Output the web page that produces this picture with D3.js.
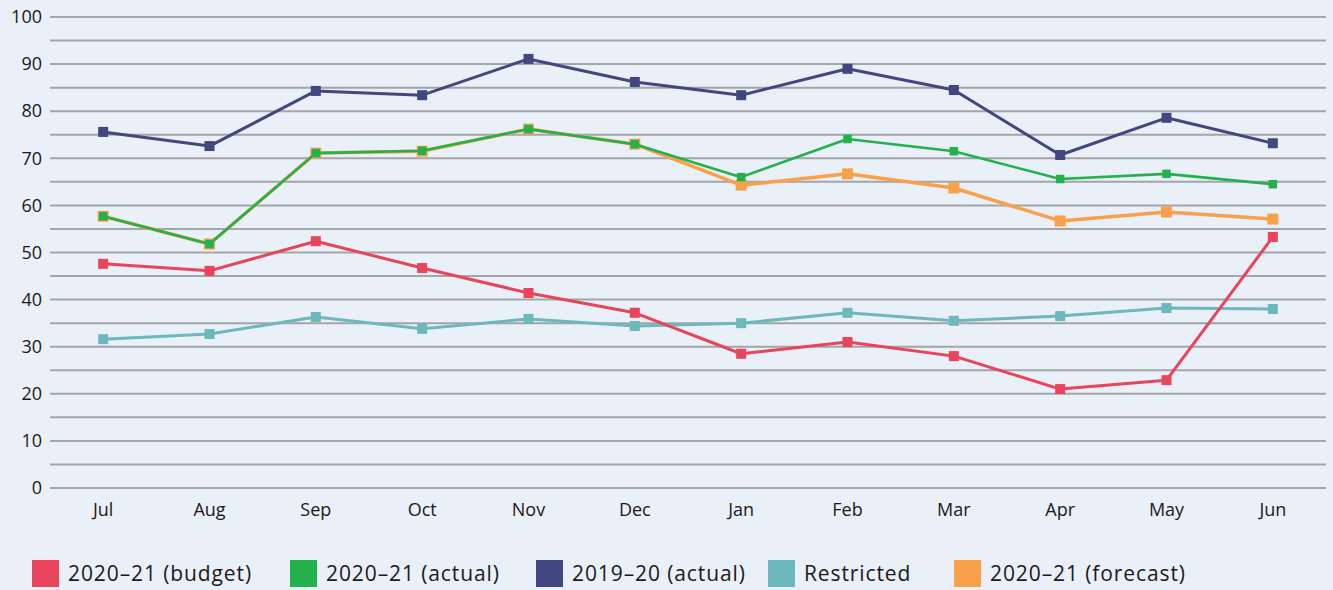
<!DOCTYPE html>
<html>
<head>
<meta charset="utf-8">
<script src="https://cdn.jsdelivr.net/npm/d3@7"></script>
<style>
  html, body { margin: 0; padding: 0; background: #e9f0f7; }
  svg { display: block; }
  text { font-family: "Open Sans", "Lato", sans-serif; fill: #1a1a1a; }
</style>
</head>
<body>
<svg id="chart" width="1333" height="590"></svg>
<script>
const months = ["Jul","Aug","Sep","Oct","Nov","Dec","Jan","Feb","Mar","Apr","May","Jun"];
const yTicks = [0,10,20,30,40,50,60,70,80,90,100];

const budget2021     = [47.6, 46.1, 52.4, 46.7, 41.4, 37.2, 28.5, 31.0, 28.0, 21.0, 22.9, 53.3];
const actual2021     = [57.7, 51.8, 71.1, 71.6, 76.2, 73.0, 66.0, 74.1, 71.5, 65.6, 66.7, 64.5];
const actual1920     = [75.6, 72.6, 84.3, 83.4, 91.1, 86.2, 83.4, 89.0, 84.5, 70.7, 78.6, 73.2];
const restricted     = [31.6, 32.7, 36.3, 33.8, 35.9, 34.4, 35.0, 37.2, 35.5, 36.5, 38.2, 38.0];
const forecast2021   = [57.7, 51.8, 71.1, 71.5, 76.2, 73.0, 64.3, 66.7, 63.7, 56.7, 58.6, 57.1];

const seriesNames  = ["2020–21 (budget)", "2020–21 (actual)", "2019–20 (actual)", "Restricted", "2020–21 (forecast)"];
const seriesColors = ["#e8445c", "#22b14c", "#434780", "#6db8bc", "#f9a04a"];

const svg = d3.select("#chart");
const plotLeft = 50, plotRight = 1326, plotTop = 17, plotBottom = 488;

const x = d3.scaleBand().domain(months).range([plotLeft, plotRight]);
const y = d3.scaleLinear().domain([0, 100]).range([plotBottom, plotTop]);

// horizontal gridlines every 5 units
const grid = svg.append("g");
d3.range(0, 101, 5).forEach(v => {
  grid.append("line")
    .attr("x1", plotLeft).attr("x2", plotRight)
    .attr("y1", y(v)).attr("y2", y(v))
    .attr("stroke", "#a3a5a8").attr("stroke-width", 2);
});

// y axis labels
const yAxis = d3.axisLeft(y).tickValues(yTicks).tickSize(0).tickPadding(8);
const gy = svg.append("g").attr("transform", `translate(${plotLeft},0)`).call(yAxis);
gy.select(".domain").remove();
gy.selectAll("text").style("font-size", "18px").style("font-family", "'Open Sans', sans-serif").attr("fill", "#1a1a1a");

// x axis labels
const xAxis = d3.axisBottom(x).tickSize(0).tickPadding(15);
const gx = svg.append("g").attr("transform", `translate(0,${plotBottom})`).call(xAxis);
gx.select(".domain").remove();
gx.selectAll("text").style("font-size", "18px").style("font-family", "'Open Sans', sans-serif").attr("fill", "#1a1a1a");

const line = d3.line()
  .x((d, i) => x(months[i]) + x.bandwidth() / 2)
  .y(d => y(d));

function drawSeries(values, color, width, marker) {
  const g = svg.append("g");
  g.append("path").datum(values)
    .attr("d", line)
    .attr("fill", "none")
    .attr("stroke", color)
    .attr("stroke-width", width)
    .attr("stroke-linejoin", "round");
  g.selectAll("rect").data(values).join("rect")
    .attr("x", (d, i) => x(months[i]) + x.bandwidth() / 2 - marker / 2)
    .attr("y", d => y(d) - marker / 2)
    .attr("width", marker).attr("height", marker)
    .attr("fill", color);
}

drawSeries(restricted, seriesColors[3], 3, 10);
drawSeries(budget2021, seriesColors[0], 3, 10);
drawSeries(actual1920, seriesColors[2], 3, 10);
drawSeries(forecast2021, seriesColors[4], 3.5, 11);
drawSeries(actual2021, seriesColors[1], 2.6, 8.5);

// legend
const legendX = [32, 290, 536, 768, 954];
const legend = svg.append("g");
seriesNames.forEach((name, i) => {
  legend.append("rect")
    .attr("x", legendX[i]).attr("y", 560)
    .attr("width", 27).attr("height", 27)
    .attr("fill", seriesColors[i]);
  legend.append("text")
    .attr("x", legendX[i] + 36).attr("y", 581)
    .style("font-size", "21px")
    .style("letter-spacing", "0.9px")
    .text(name);
});
</script>
</body>
</html>
